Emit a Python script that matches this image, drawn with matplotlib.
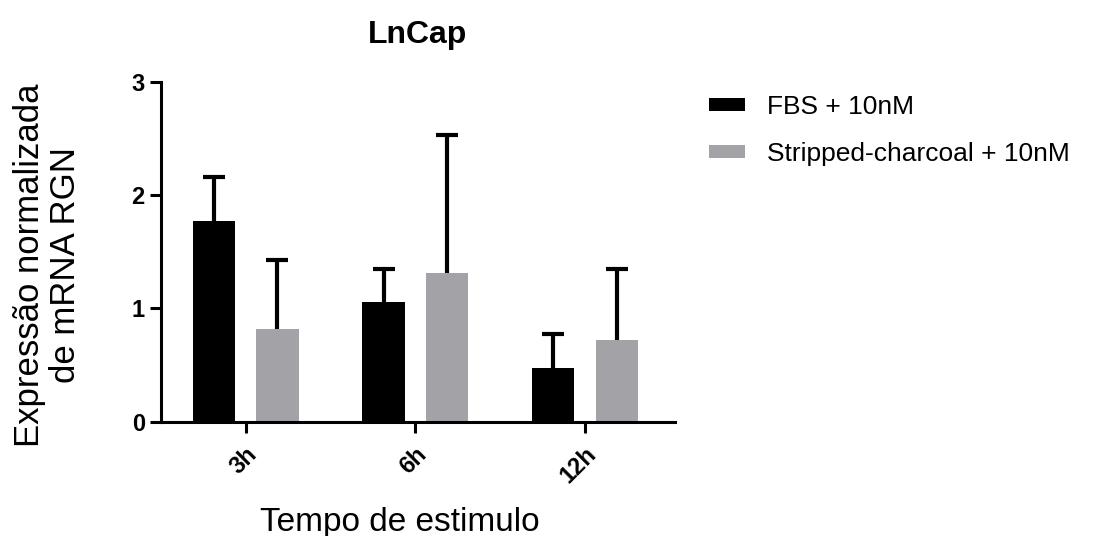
import numpy as np
import matplotlib.pyplot as plt
from matplotlib.patches import Patch

plt.rcParams['font.family'] = ['Liberation Sans', 'DejaVu Sans']

# dados
grupos = ['3h', '6h', '12h']
fbs = [1.77, 1.06, 0.47]
fbs_err = [0.39, 0.29, 0.30]
stripped = [0.82, 1.31, 0.72]
stripped_err = [0.61, 1.22, 0.63]
series = ['FBS + 10nM', 'Stripped-charcoal + 10nM']
cores = ['#000000', '#a3a2a7']

fig = plt.figure(figsize=(10.94, 5.36), dpi=100)
ax = fig.add_axes([0.147, 0.2133, 0.47, 0.6343])

x = np.arange(len(grupos))
w = 0.25
off = 0.1875
for vals, errs, cor, dx in [(fbs, fbs_err, cores[0], -off), (stripped, stripped_err, cores[1], off)]:
    ax.bar(x + dx, vals, width=w, color=cor, zorder=2)
    eb = ax.errorbar(x + dx, vals, yerr=[np.zeros(len(errs)), errs], fmt='none',
                     ecolor='black', elinewidth=3, capsize=8, capthick=3, zorder=1)
    # só a barra de cima (sem o cap de baixo)
    eb[1][0].set_visible(False)

ax.set_xlim(-0.5, 2.53)
ax.set_ylim(0, 3)
ax.set_yticks([0, 1, 2, 3])
ax.set_yticklabels(['0', '1', '2', '3'], fontsize=17, fontweight='bold')
ax.set_xticks(x)
ax.set_xticklabels(grupos, rotation=45, ha='right', rotation_mode='anchor',
                   fontsize=17, fontweight='bold')

for s in ['top', 'right']:
    ax.spines[s].set_visible(False)
for s in ['left', 'bottom']:
    ax.spines[s].set_linewidth(2.2)
ax.tick_params(width=2.2, length=8)
ax.tick_params(axis='x', pad=7)

ax.set_title('LnCap', fontsize=23, fontweight='bold', pad=28)
ax.set_xlabel('Tempo de estimulo', fontsize=24, labelpad=14, x=0.465)
ax.set_ylabel('Expressão normalizada\nde mRNA RGN', fontsize=25, labelpad=36,
              linespacing=1.1, y=0.46)

handles = [Patch(facecolor=c, edgecolor='none') for c in cores]
fig.legend(handles, series, loc='upper left', bbox_to_anchor=(709 / 1094, 0.822),
           frameon=False, fontsize=19, handlelength=1.36, handleheight=0.38,
           handletextpad=0.83, labelspacing=0.85, borderpad=0, borderaxespad=0)

fig.savefig('out.png', dpi=100)
plt.close(fig)
